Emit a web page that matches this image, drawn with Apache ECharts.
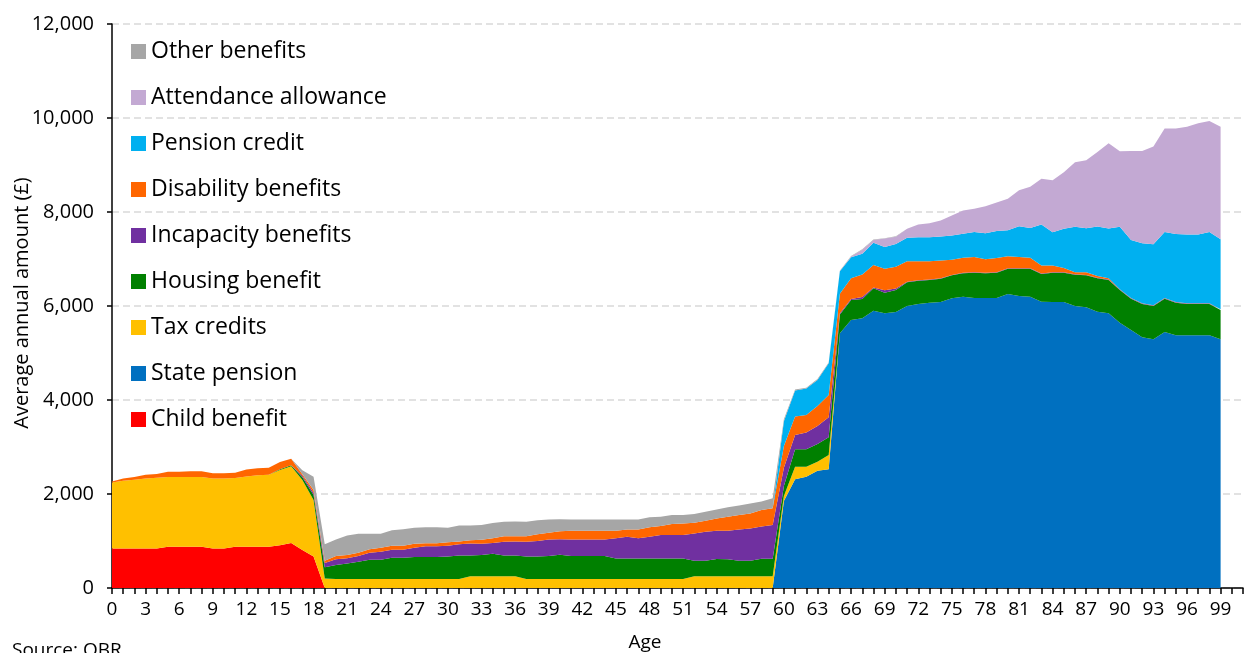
<!DOCTYPE html>
<html>
<head>
<meta charset="utf-8">
<script src="https://cdn.jsdelivr.net/npm/echarts@6/dist/echarts.min.js"></script>
<style>
  html, body { margin: 0; padding: 0; background: #fff; }
  #chart { width: 1251px; height: 653px; }
</style>
</head>
<body>
<div id="chart"></div>
<script>
// ages 0..101 on the axis, data runs to 99
const ages = [];
for (let a = 0; a <= 101; a++) ages.push(String(a));

const seriesNames = [
  "Child benefit", "State pension", "Tax credits", "Housing benefit",
  "Incapacity benefits", "Disability benefits", "Pension credit",
  "Attendance allowance", "Other benefits"
];

const childBenefit = [
  840, 840, 840, 840, 840, 880, 880, 880, 880, 840,
  840, 880, 880, 880, 880, 910, 955, 810, 670, 0,
  0, 0, 0, 0, 0, 0, 0, 0, 0, 0,
  0, 0, 0, 0, 0, 0, 0, 0, 0, 0,
  0, 0, 0, 0, 0, 0, 0, 0, 0, 0,
  0, 0, 0, 0, 0, 0, 0, 0, 0, 0,
  0, 0, 0, 0, 0, 0, 0, 0, 0, 0,
  0, 0, 0, 0, 0, 0, 0, 0, 0, 0,
  0, 0, 0, 0, 0, 0, 0, 0, 0, 0,
  0, 0, 0, 0, 0, 0, 0, 0, 0, 0
];

const statePension = [
  0, 0, 0, 0, 0, 0, 0, 0, 0, 0,
  0, 0, 0, 0, 0, 0, 0, 0, 0, 0,
  0, 0, 0, 0, 0, 0, 0, 0, 0, 0,
  0, 0, 0, 0, 0, 0, 0, 0, 0, 0,
  0, 0, 0, 0, 0, 0, 0, 0, 0, 0,
  0, 0, 0, 0, 0, 0, 0, 0, 0, 0,
  1850, 2312, 2369, 2496, 2525, 5418, 5702, 5738, 5901, 5844,
  5872, 6000, 6043, 6071, 6085, 6163, 6199, 6170, 6170, 6170,
  6255, 6213, 6199, 6092, 6085, 6085, 6000, 5972, 5879, 5844,
  5645, 5489, 5333, 5291, 5447, 5376, 5376, 5376, 5376, 5291
];

const taxCredits = [
  1405, 1441, 1462, 1490, 1504, 1482, 1482, 1482, 1482, 1490,
  1490, 1460, 1490, 1517, 1531, 1600, 1635, 1488, 1200, 200,
  190, 190, 190, 190, 190, 190, 190, 190, 190, 190,
  190, 190, 250, 250, 250, 250, 250, 190, 190, 190,
  190, 190, 190, 190, 190, 190, 190, 190, 190, 190,
  190, 190, 250, 250, 250, 250, 250, 250, 250, 250,
  110, 270, 213, 192, 305, 0, 0, 0, 0, 0,
  0, 0, 0, 0, 0, 0, 0, 0, 0, 0,
  0, 0, 0, 0, 0, 0, 0, 0, 0, 0,
  0, 0, 0, 0, 0, 0, 0, 0, 0, 0
];

const housingBenefit = [
  0, 0, 0, 0, 0, 0, 0, 0, 0, 0,
  0, 0, 0, 0, 0, 15, 20, 60, 107, 240,
  300, 330, 370, 410, 410, 455, 455, 470, 470, 470,
  480, 500, 440, 450, 480, 440, 440, 480, 480, 490,
  520, 490, 490, 490, 490, 440, 440, 440, 440, 440,
  440, 440, 330, 330, 365, 360, 330, 330, 375, 375,
  210, 370, 370, 376, 376, 400, 426, 411, 475, 440,
  468, 504, 496, 482, 497, 489, 496, 539, 525, 539,
  539, 581, 595, 589, 624, 624, 667, 680, 710, 709,
  695, 667, 710, 709, 709, 695, 667, 667, 667, 624
];

const incapacityBenefits = [
  0, 0, 0, 0, 0, 0, 0, 0, 0, 0,
  0, 0, 0, 0, 0, 0, 0, 30, 50, 90,
  120, 113, 121, 148, 170, 170, 170, 198, 227, 227,
  230, 241, 255, 243, 227, 296, 298, 316, 330, 354,
  326, 354, 354, 354, 354, 426, 461, 426, 461, 497,
  497, 497, 581, 617, 603, 610, 666, 688, 681, 716,
  390, 305, 355, 383, 425, 30, 20, 40, 20, 50,
  30, 10, 10, 10, 10, 10, 10, 10, 10, 10,
  10, 10, 10, 10, 10, 10, 10, 10, 10, 10,
  10, 10, 10, 10, 10, 10, 10, 10, 10, 10
];

const disabilityBenefits = [
  20, 50, 60, 80, 80, 110, 110, 120, 120, 110,
  110, 110, 150, 150, 150, 156, 140, 30, 57, 50,
  72, 71, 70, 79, 85, 85, 85, 85, 65, 65,
  72, 57, 71, 85, 100, 113, 113, 113, 142, 142,
  171, 185, 185, 185, 185, 163, 156, 191, 199, 191,
  234, 248, 227, 234, 262, 298, 305, 319, 355, 355,
  460, 390, 376, 425, 475, 412, 441, 482, 476, 461,
  467, 440, 405, 391, 376, 321, 320, 321, 292, 300,
  256, 241, 220, 170, 142, 92, 42, 57, 40, 30,
  5, 5, 5, 5, 5, 5, 5, 5, 5, 5
];

const pensionCredit = [
  0, 0, 0, 0, 0, 0, 0, 0, 0, 0,
  0, 0, 0, 0, 0, 0, 0, 0, 0, 0,
  0, 0, 0, 0, 0, 0, 0, 0, 0, 0,
  0, 0, 0, 0, 0, 0, 0, 0, 0, 0,
  0, 0, 0, 0, 0, 0, 0, 0, 0, 0,
  0, 0, 0, 0, 0, 0, 0, 0, 0, 0,
  530, 554, 560, 554, 674, 482, 446, 440, 476, 461,
  482, 498, 511, 511, 511, 518, 511, 532, 553, 575,
  553, 653, 638, 872, 709, 830, 965, 936, 1050, 1056,
  1330, 1234, 1276, 1298, 1404, 1447, 1461, 1461, 1517, 1489
];

const attendanceAllowance = [
  0, 0, 0, 0, 0, 0, 0, 0, 0, 0,
  0, 0, 0, 0, 0, 0, 0, 0, 0, 0,
  0, 0, 0, 0, 0, 0, 0, 0, 0, 0,
  0, 0, 0, 0, 0, 0, 0, 0, 0, 0,
  0, 0, 0, 0, 0, 0, 0, 0, 0, 0,
  0, 0, 0, 0, 0, 0, 0, 0, 0, 0,
  0, 0, 0, 0, 0, 0, 20, 84, 56, 178,
  156, 190, 270, 298, 340, 425, 497, 496, 575, 610,
  667, 766, 873, 972, 1107, 1206, 1376, 1447, 1588, 1816,
  1609, 1893, 1964, 2078, 2199, 2241, 2297, 2368, 2362, 2397
];

const otherBenefits = [
  0, 0, 0, 0, 0, 0, 0, 0, 0, 0,
  0, 0, 0, 0, 0, 0, 0, 85, 284, 350,
  350, 411, 405, 326, 298, 327, 348, 341, 341, 341,
  312, 340, 312, 312, 326, 312, 312, 312, 298, 284,
  255, 241, 241, 241, 241, 241, 213, 213, 213, 199,
  191, 177, 184, 191, 192, 198, 206, 212, 177, 213,
  40, 20, 20, 20, 20, 10, 10, 10, 10, 10,
  10, 0, 0, 0, 0, 0, 0, 0, 0, 0,
  0, 0, 0, 0, 0, 0, 0, 0, 0, 0,
  0, 0, 0, 0, 0, 0, 0, 0, 0, 0
];

const seriesValues = [
  childBenefit, statePension, taxCredits, housingBenefit, incapacityBenefits,
  disabilityBenefits, pensionCredit, attendanceAllowance, otherBenefits
];

const colors = [
  "#FF0000", "#0070C0", "#FFC000", "#008000", "#7030A0",
  "#FF6600", "#00B0F0", "#C3A9D3", "#A6A6A6"
];

const yTicks = [0, 2000, 4000, 6000, 8000, 10000, 12000];

const font = "Open Sans";

const chart = echarts.init(document.getElementById("chart"), null, { renderer: "canvas" });

const options = {
  animation: false,
  color: colors,
  textStyle: { fontFamily: font },
  grid: { left: 112, right: 8, top: 24, bottom: 65, containLabel: false },
  legend: {
    orient: "vertical",
    left: 126,
    top: 35,
    itemWidth: 15,
    itemHeight: 15,
    itemGap: 23,
    icon: "rect",
    data: seriesNames.slice().reverse(),
    textStyle: { fontSize: 23, color: "#000", fontFamily: font, lineHeight: 22 },
  },
  xAxis: {
    type: "category",
    data: ages,
    boundaryGap: false,
    axisLine: { lineStyle: { color: "#000", width: 1.5 } },
    axisTick: { show: true, interval: 0, length: 6, lineStyle: { color: "#000", width: 1.5 } },
    axisLabel: { interval: 2, fontSize: 19, color: "#000", margin: 12, fontFamily: font },
    splitLine: { show: false },
  },
  yAxis: {
    type: "value",
    min: yTicks[0],
    max: yTicks[yTicks.length - 1],
    interval: 2000,
    axisLine: { show: true, lineStyle: { color: "#000", width: 1.5 } },
    axisTick: { show: true, length: 5, lineStyle: { color: "#000", width: 1.5 } },
    axisLabel: {
      fontSize: 20,
      color: "#000",
      margin: 18,
      fontFamily: font,
      formatter: (v) => v.toLocaleString("en-GB"),
    },
    splitLine: { show: true, lineStyle: { color: "#D9D9D9", type: [7, 4], width: 1.5 } },
  },
  graphic: [
    {
      type: "text",
      x: 22,
      y: 303,
      rotation: Math.PI / 2,
      style: {
        text: "Average annual amount (£)",
        font: "20px 'Open Sans'",
        fill: "#000",
        textAlign: "center",
        textVerticalAlign: "middle",
      },
    },
    {
      type: "text",
      x: 645,
      y: 643,
      style: {
        text: "Age",
        font: "19px 'Open Sans'",
        fill: "#000",
        textAlign: "center",
        textVerticalAlign: "middle",
      },
    },
    {
      type: "text",
      x: 12,
      y: 641,
      style: {
        text: "Source: OBR",
        font: "19px 'Open Sans'",
        fill: "#000",
        textAlign: "left",
        textVerticalAlign: "top",
      },
    },
  ],
  series: seriesNames.map((name, i) => ({
    name: name,
    type: "line",
    stack: "total",
    data: seriesValues[i],
    symbol: "none",
    smooth: false,
    lineStyle: { width: 0 },
    areaStyle: { color: colors[i], opacity: 1 },
    itemStyle: { color: colors[i] },
    emphasis: { disabled: true },
  })),
};

chart.setOption(options);
</script>
</body>
</html>
